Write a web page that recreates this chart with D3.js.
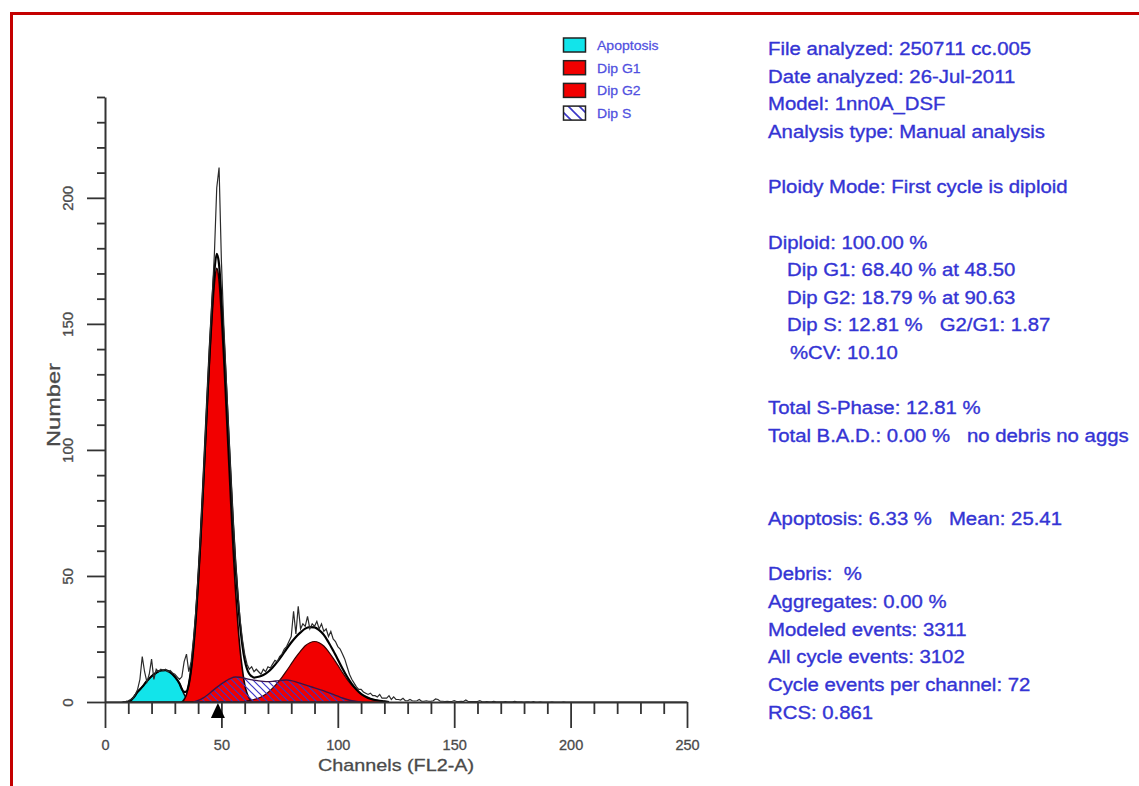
<!DOCTYPE html>
<html><head><meta charset="utf-8">
<script src="https://cdn.jsdelivr.net/npm/d3@7/dist/d3.min.js"></script>
<style>
body{margin:0;background:#fff;}
text{font-family:"Liberation Sans",Arial,sans-serif;}
</style>
</head><body>
<svg id="chart" width="1139" height="786"></svg>
<script>
// ---------- DATA ----------
// raw histogram, one value per channel 0..250
const rawCounts = [
0,0,0,0,0,0,0,0,0.2,0.3,
0.5,1,1.5,3,5,9,18,12,8,11,
17,9,13,12,13,12.5,13,12,12.5,11.5,
11,10,9,10,16,19,12,16,25,36,
50,66,85,104,124,143,160,178,204,212,
175,150,130,110,91,73,57,44,33,25,
19,15,13,14,12,13,12,11,13,12,
14,13.5,15,16.5,16,18,19,21,22,24,
26,36,27,38,29,31,30,34,29,31,
30,32,29,31,28,29,26,28,25,24,
22,21,19,17,14,11,9,7.5,6,5,
5,4,3.5,3,3.5,2.5,2.5,2,3,1.5,
1.5,1.5,2.5,1,2,1,1,0.8,1.5,0.5,
0.5,1,0.5,0.4,0.5,1,0.3,0.3,0.5,0.3,
0.3,0.5,1.2,1,0.3,0.3,0.2,0.3,0.2,0.2,
0.5,0.2,0.2,0.3,0.2,0.8,0.2,0.2,0.2,0.2,
0.2,0.5,0.1,0.1,0.2,0.1,0.1,0.3,0.1,0.1,
0.1,0.1,0.2,0.1,0.1,0.1,0.3,0.1,0.1,0.1,
0,0.1,0.1,0,0.2,0,0,0.1,0,0,
0,0,0.1,0,0,0,0,0.1,0,0,
0,0,0,0,0,0,0,0,0,0,
0,0,0,0,0,0,0,0,0,0,
0,0,0,0,0,0,0,0,0,0,
0,0,0,0,0,0,0,0,0,0,
0,0,0,0,0,0,0,0,0,0,
0];

const apoChannels = [10,12,14,16,18,20,22,24,26,28,30,32,34,36];
const apoCounts   = [0,1.5,4,6,8.3,10.2,11.6,12.5,12.6,11.8,10,7.3,3,0];

const g1Channels = [33,34,35,36,37,38,39,40,41,42,43,44,45,46,47,48,49,50,51,52,53,54,55,56,57,58,59,60,61,62,63,64];
const g1Counts   = [0,1,3,7,13,22,33,47,63,81,100,119,137,153,166,172,167,153,136,117,98,79,61,45,32,21,13,7,3.5,1.5,0.5,0];

const g2Channels = [60,62,64,66,68,70,72,74,76,78,80,82,84,86,88,90,92,94,96,98,100,102,104,106,108,110,112,114,116,118,120,122];
const g2Counts   = [0.3,0.6,1.0,1.6,2.5,3.8,5.5,7.5,9.8,12.4,15.1,17.8,20.2,22.3,23.5,24,23.5,22.2,20,17.4,14.6,11.7,9,6.7,4.8,3.2,2.1,1.3,0.8,0.5,0.3,0];

const sChannels = [38,40,42,44,46,48,50,52,54,56,58,60,62,64,66,68,70,72,74,76,78,80,82,84,86,88,90,92,94,96,98,100,102,104,106,108,110];
const sCounts   = [0,0.6,1.5,2.8,4.3,5.8,7.2,8.4,9.4,9.9,9.8,9.4,9.0,8.7,8.4,8.2,8.1,8.2,8.4,8.6,8.7,8.5,8.0,7.4,6.8,6.2,5.6,5.0,4.4,3.7,3.0,2.3,1.6,1.0,0.5,0.2,0];

const fitChannels = [8,10,12,14,16,18,20,22,24,26,28,30,32,33,34,35,36,37,38,39,40,41,42,43,44,45,46,47,48,49,50,51,52,53,54,55,56,57,58,59,60,61,62,63,64,66,68,70,72,74,76,78,80,82,84,86,88,90,92,94,96,98,100,102,104,106,108,110,112,114,116,118,120,122];
const fitCounts   = [0,0,1.5,4,6,8.3,10.2,11.6,12.5,12.6,11.8,10,7.3,5.2,4,4.2,7,13,22,33.3,47.6,64,82.5,102.1,121.8,140.5,157.3,171,177.8,173.5,160.2,143.8,125.4,106.9,88.4,70.6,54.9,41.9,30.8,22.6,16.7,13.1,11.1,10.2,9.7,10,10.7,11.9,13.7,15.9,18.4,21.1,23.6,25.8,27.6,29.1,29.7,29.6,28.5,26.6,23.7,20.4,16.9,13.3,10,7.2,5,3.2,2.1,1.3,0.8,0.5,0.3,0];

const g1Mean = 48.5;

const xTickValues = [0,50,100,150,200,250];
const yTickValues = [0,50,100,150,200];
const xTitle = "Channels (FL2-A)";
const yTitle = "Number";

const legendLabels = ["Apoptosis","Dip G1","Dip G2","Dip S"];

const panelLines = [
"File analyzed: 250711 cc.005",
"Date analyzed: 26-Jul-2011",
"Model: 1nn0A_DSF",
"Analysis type: Manual analysis",
"",
"Ploidy Mode: First cycle is diploid",
"",
"Diploid: 100.00 %",
"Dip G1: 68.40 % at 48.50",
"Dip G2: 18.79 % at 90.63",
"Dip S: 12.81 %   G2/G1: 1.87",
"%CV: 10.10",
"",
"Total S-Phase: 12.81 %",
"Total B.A.D.: 0.00 %   no debris no aggs",
"",
"",
"Apoptosis: 6.33 %   Mean: 25.41",
"",
"Debris:  %",
"Aggregates: 0.00 %",
"Modeled events: 3311",
"All cycle events: 3102",
"Cycle events per channel: 72",
"RCS: 0.861"
];

// ---------- DRAW ----------
const svg = d3.select("#chart");
const x = d3.scaleLinear().domain([0,250]).range([105,687]);
const y = d3.scaleLinear().domain([0,240]).range([702,97]);

const COLORS = {apo:"#12e4ea", red:"#f20000", blue:"#3434d4", legendBlue:"#5050e0", axis:"#333", label:"#4a4a4a"};

// red frame
svg.append("path").attr("d","M11.5,786 V13.5 H1139").attr("fill","none").attr("stroke","#c40000").attr("stroke-width",3);

const defs = svg.append("defs");
const pat = defs.append("pattern").attr("id","hatch").attr("patternUnits","userSpaceOnUse").attr("width",7).attr("height",7);
pat.append("path").attr("d","M-2,-2 L9,9 M-2,5 L2,9 M5,-2 L9,2").attr("stroke","#3b36c8").attr("stroke-width",1.2);
const pat2 = defs.append("pattern").attr("id","hatch2").attr("patternUnits","userSpaceOnUse").attr("width",11).attr("height",11);
pat2.append("rect").attr("width",11).attr("height",11).attr("fill","#fff");
pat2.append("path").attr("d","M-2,-2 L13,13 M-2,9 L2,13 M9,-2 L13,2").attr("stroke","#3b36c8").attr("stroke-width",1.6);

function zipPts(ch, v){ return ch.map((c,i)=>[c, v[i]]); }
const area = d3.area().x(d=>x(d[0])).y0(y(0)).y1(d=>y(d[1])).curve(d3.curveMonotoneX);
const line = d3.line().x(d=>x(d[0])).y(d=>y(d[1])).curve(d3.curveMonotoneX);
const rawLine = d3.line().x(d=>x(d[0])).y(d=>y(d[1]));

// apoptosis
svg.append("path").datum(zipPts(apoChannels, apoCounts)).attr("d", area)
  .attr("fill", COLORS.apo).attr("stroke","#111").attr("stroke-width",1.5);
// G1
svg.append("path").datum(zipPts(g1Channels, g1Counts)).attr("d", area)
  .attr("fill", COLORS.red).attr("stroke","#1a0000").attr("stroke-width",1.6);
// G2
svg.append("path").datum(zipPts(g2Channels, g2Counts)).attr("d", area)
  .attr("fill", COLORS.red).attr("stroke","#3a0000").attr("stroke-width",1.2);
// S phase (hatched)
svg.append("path").datum(zipPts(sChannels, sCounts)).attr("d", area)
  .attr("fill","url(#hatch)").attr("stroke","#3a1448").attr("stroke-width",1.4);

// model fit
svg.append("path").datum(zipPts(fitChannels, fitCounts)).attr("d", line)
  .attr("fill","none").attr("stroke","#000").attr("stroke-width",2.2);

// raw histogram
const rawChannels = d3.range(rawCounts.length);
svg.append("path").datum(zipPts(rawChannels, rawCounts)).attr("d", rawLine)
  .attr("fill","none").attr("stroke","#2b2b2b").attr("stroke-width",1.2);

// axes
const yAxis = d3.axisLeft(y).tickValues(d3.range(0,241,10)).tickSize(8).tickSizeOuter(0)
  .tickFormat(d => yTickValues.includes(d) ? d : "");
const gy = svg.append("g").attr("transform",`translate(${x(0)},0)`).call(yAxis)
  .attr("font-family","'Liberation Sans',Arial,sans-serif").attr("font-size",15);
gy.select(".domain").attr("stroke",COLORS.axis).attr("stroke-width",2);
gy.selectAll(".tick line").attr("stroke",COLORS.axis).attr("stroke-width",1.8);
gy.selectAll(".tick").filter(d=>yTickValues.includes(d)).select("line").attr("x2",-18);
gy.selectAll(".tick text").attr("x",0).attr("dy",0).attr("fill",COLORS.label)
  .attr("stroke",COLORS.label).attr("stroke-width",0.3)
  .attr("text-anchor","middle").attr("transform","translate(-32,0) rotate(-90)");

const xAxis = d3.axisBottom(x).tickValues(d3.range(0,251,10)).tickSize(12).tickSizeOuter(0)
  .tickFormat(d => xTickValues.includes(d) ? d : "");
const gx = svg.append("g").attr("transform",`translate(0,${y(0)})`).call(xAxis)
  .attr("font-family","'Liberation Sans',Arial,sans-serif").attr("font-size",14.5);
gx.select(".domain").attr("stroke",COLORS.axis).attr("stroke-width",2);
gx.selectAll(".tick line").attr("stroke",COLORS.axis).attr("stroke-width",1.8);
gx.selectAll(".tick").filter(d=>xTickValues.includes(d)).select("line").attr("y2",26);
gx.selectAll(".tick text").attr("y",48).attr("dy",0).attr("fill",COLORS.label)
  .attr("stroke",COLORS.label).attr("stroke-width",0.3);

// axis titles
svg.append("text").attr("x",(x(0)+x(250))/2).attr("y",771).attr("text-anchor","middle")
  .attr("font-size",17).attr("fill",COLORS.label).attr("stroke",COLORS.label).attr("stroke-width",0.3)
  .attr("textLength",156).attr("lengthAdjust","spacingAndGlyphs")
  .text(xTitle);
svg.append("text").attr("transform","translate(60,405) rotate(-90)").attr("text-anchor","middle")
  .attr("font-size",18).attr("fill",COLORS.label).attr("stroke",COLORS.label).attr("stroke-width",0.3)
  .attr("textLength",84).attr("lengthAdjust","spacingAndGlyphs")
  .text(yTitle);

// G1 marker
const mx = x(g1Mean);
svg.append("path").attr("d",`M${mx},${y(0)+1} L${mx-7},${y(0)+16} L${mx+7},${y(0)+16} Z`).attr("fill","#000");

// legend
const legendFills = [COLORS.apo, COLORS.red, COLORS.red, "url(#hatch2)"];
const lg = svg.append("g");
legendLabels.forEach((lab,i)=>{
  const ty = 38 + i*22.7;
  lg.append("rect").attr("x",563.5).attr("y",ty).attr("width",22).attr("height",14)
    .attr("fill",legendFills[i]).attr("stroke","#222").attr("stroke-width",1.5);
  lg.append("text").attr("transform",`translate(597,${ty+12}) scale(1.08,1)`).attr("font-size",13)
    .attr("fill",COLORS.legendBlue).attr("stroke",COLORS.legendBlue).attr("stroke-width",0.25).text(lab);
});

// info panel
const pg = svg.append("g").attr("transform","translate(768,0) scale(1.1,1)");
panelLines.forEach((t,k)=>{
  if(!t) return;
  let ix = 0;
  if (t.startsWith("Dip ")) ix = (787-768)/1.1;
  else if (t.startsWith("%CV")) ix = (790-768)/1.1;
  pg.append("text").attr("x",ix).attr("y",55 + k*27.65).attr("font-size",18.5)
    .attr("fill",COLORS.blue).attr("stroke",COLORS.blue).attr("stroke-width",0.35)
    .style("white-space","pre").text(t);
});
</script>
</body></html>
